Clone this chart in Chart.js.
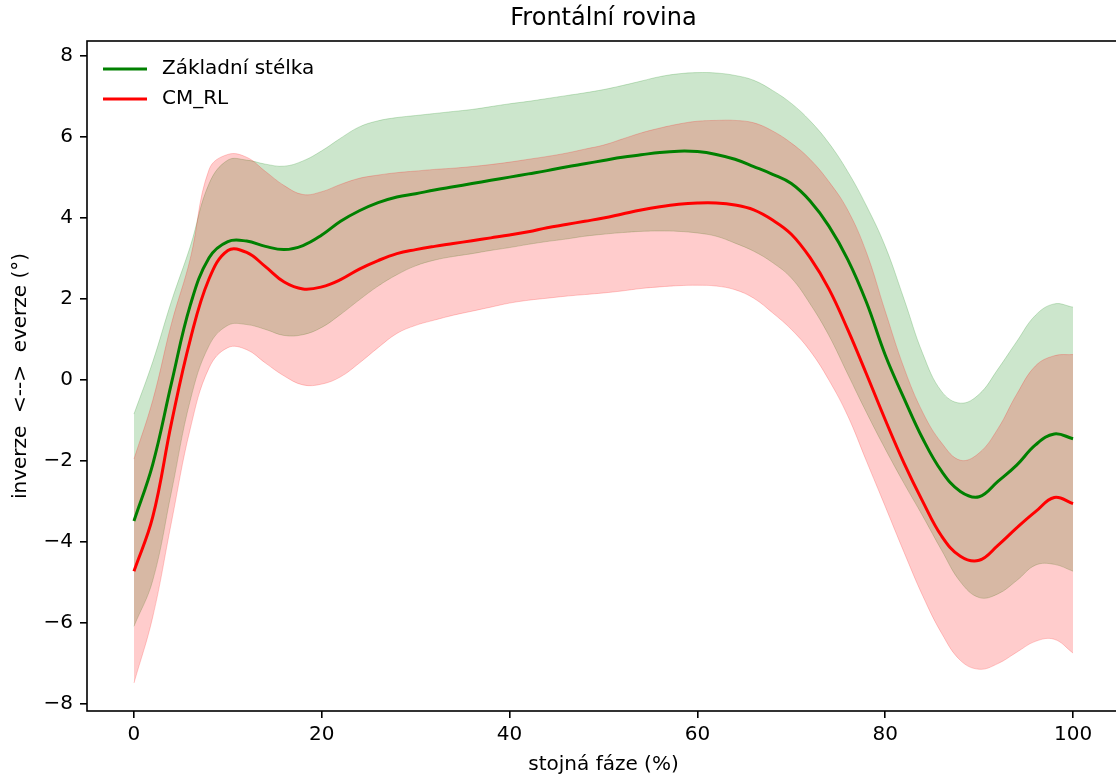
<!DOCTYPE html>
<html lang="cs">
<head>
<meta charset="UTF-8">
<title>Frontální rovina</title>
<script src="https://cdn.jsdelivr.net/npm/chart.js"></script>
<style>
  html, body { margin: 0; padding: 0; background: #fff; overflow: hidden; }
  #wrap { width: 1122px; height: 780px; }
</style>
</head>
<body>
<div id="wrap"><canvas id="frontal" width="1122" height="780"></canvas></div>
<script>
// stance phase (%), sampled every 2 %
const stance = [0, 2, 4, 6, 8, 10, 12, 14, 16, 18, 20, 22, 24, 26, 28, 30, 32, 34, 36, 38, 40,
  42, 44, 46, 48, 50, 52, 54, 56, 58, 60, 62, 64, 66, 68, 70, 72, 74, 76, 78, 80,
  82, 84, 86, 88, 90, 92, 94, 96, 98, 100];

// Základní stélka: mean and mean ± SD
const zaklMean = [-3.48, -2.08, -0.07, 1.85, 3.02, 3.42, 3.43, 3.3, 3.22, 3.32, 3.58,
  3.92, 4.18, 4.38, 4.52, 4.6, 4.69, 4.77, 4.85, 4.93, 5.01,
  5.09, 5.17, 5.26, 5.34, 5.42, 5.5, 5.56, 5.62, 5.65, 5.64,
  5.57, 5.45, 5.27, 5.08, 4.85, 4.42, 3.8, 2.98, 1.92, 0.62,
  -0.45, -1.45, -2.25, -2.75, -2.88, -2.5, -2.1, -1.6, -1.33, -1.45];
const zaklUpper = [-0.84, 0.45, 1.95, 3.3, 4.85, 5.43, 5.43, 5.33, 5.28, 5.41, 5.66,
  5.97, 6.25, 6.4, 6.48, 6.53, 6.58, 6.63, 6.68, 6.75, 6.82,
  6.88, 6.95, 7.02, 7.09, 7.17, 7.27, 7.38, 7.49, 7.56, 7.59,
  7.58, 7.52, 7.4, 7.15, 6.83, 6.4, 5.85, 5.15, 4.3, 3.3,
  2.0, 0.65, -0.28, -0.57, -0.35, 0.27, 0.95, 1.6, 1.88, 1.8];
const zaklLower = [-6.08, -4.95, -2.75, -0.5, 0.85, 1.35, 1.37, 1.25, 1.1, 1.12, 1.3,
  1.62, 1.98, 2.32, 2.6, 2.82, 2.96, 3.05, 3.12, 3.2, 3.27,
  3.35, 3.42, 3.48, 3.55, 3.6, 3.64, 3.67, 3.68, 3.67, 3.63,
  3.55, 3.38, 3.18, 2.9, 2.52, 1.88, 1.1, 0.15, -0.8, -1.7,
  -2.55, -3.36, -4.2, -4.98, -5.37, -5.28, -4.95, -4.57, -4.55, -4.72];

// CM_RL: mean and mean ± SD
const cmMean = [-4.72, -3.38, -1.05, 1.0, 2.5, 3.2, 3.15, 2.8, 2.42, 2.25, 2.3,
  2.48, 2.74, 2.95, 3.12, 3.22, 3.3, 3.37, 3.44, 3.51, 3.58,
  3.66, 3.76, 3.84, 3.92, 4.0, 4.1, 4.2, 4.28, 4.34, 4.37,
  4.37, 4.32, 4.2, 3.95, 3.6, 3.02, 2.25, 1.25, 0.15, -0.98,
  -2.05, -3.0, -3.85, -4.35, -4.45, -4.08, -3.65, -3.25, -2.9, -3.05];
const cmUpper = [-1.95, -0.5, 1.4, 3.0, 5.2, 5.57, 5.5, 5.15, 4.8, 4.58, 4.65,
  4.83, 4.98, 5.06, 5.12, 5.16, 5.2, 5.23, 5.27, 5.32, 5.38,
  5.45, 5.52, 5.6, 5.7, 5.8, 5.95, 6.1, 6.22, 6.32, 6.39,
  6.41, 6.41, 6.35, 6.15, 5.85, 5.45, 4.9, 4.2, 3.15, 1.7,
  0.3, -0.8, -1.55, -1.98, -1.8, -1.2, -0.35, 0.35, 0.6, 0.63];
const cmLower = [-7.48, -5.85, -3.5, -1.2, 0.3, 0.8, 0.75, 0.42, 0.1, -0.12, -0.1,
  0.08, 0.42, 0.8, 1.15, 1.35, 1.48, 1.6, 1.7, 1.8, 1.9,
  1.97, 2.02, 2.07, 2.11, 2.15, 2.2, 2.26, 2.3, 2.33, 2.34,
  2.32, 2.23, 2.02, 1.66, 1.25, 0.72, 0.0, -0.88, -2.0, -3.12,
  -4.25, -5.33, -6.25, -6.92, -7.14, -7.0, -6.72, -6.45, -6.4, -6.74];

const xTicks = [0, 20, 40, 60, 80, 100];
const yTicks = [-8, -6, -4, -2, 0, 2, 4, 6, 8];

const FONT = "'DejaVu Sans', sans-serif";
Chart.defaults.font.family = FONT;
Chart.defaults.color = '#000';

const pts = ys => stance.map((x, i) => ({ x: x, y: ys[i] }));
const minus = v => (v < 0 ? '\u2212' + Math.abs(v) : String(v));

// spines, title and the legend are drawn by hand so they sit like the pyplot figure
const decor = {
  id: 'decor',
  afterDraw(chart) {
    const { ctx, chartArea: a } = chart;
    ctx.save();
    ctx.strokeStyle = '#000';
    ctx.lineWidth = 1.6;
    ctx.strokeRect(a.left, a.top, a.right - a.left, a.bottom - a.top);

    ctx.fillStyle = '#000';
    ctx.font = '24px ' + FONT;
    ctx.textAlign = 'center';
    ctx.textBaseline = 'middle';
    ctx.fillText('Frontální rovina', (a.left + a.right) / 2, 19);

    ctx.font = '20px ' + FONT;
    ctx.textAlign = 'left';
    [4, 5].forEach((idx, row) => {
      const ds = chart.data.datasets[idx];
      const y = a.top + 28 + row * 30;
      ctx.strokeStyle = ds.borderColor;
      ctx.lineWidth = 3;
      ctx.beginPath();
      ctx.moveTo(a.left + 16, y);
      ctx.lineTo(a.left + 60, y);
      ctx.stroke();
      ctx.fillText(ds.label, a.left + 75, y);
    });
    ctx.restore();
  }
};

const bandStyle = rgb => ({
  borderColor: 'rgba(' + rgb + ',0.2)',
  backgroundColor: 'rgba(' + rgb + ',0.2)',
  borderWidth: 1
});

new Chart(document.getElementById('frontal'), {
  type: 'line',
  data: {
    datasets: [
      { label: 'zakl_sd_upper', data: pts(zaklUpper), fill: '+1', order: 6, ...bandStyle('0,128,0') },
      { label: 'zakl_sd_lower', data: pts(zaklLower), fill: false, order: 5, ...bandStyle('0,128,0') },
      { label: 'cm_sd_upper', data: pts(cmUpper), fill: '+1', order: 4, ...bandStyle('255,0,0') },
      { label: 'cm_sd_lower', data: pts(cmLower), fill: false, order: 3, ...bandStyle('255,0,0') },
      { label: 'Základní stélka', data: pts(zaklMean), borderColor: '#008000', borderWidth: 3, fill: false, order: 2 },
      { label: 'CM_RL', data: pts(cmMean), borderColor: '#ff0000', borderWidth: 3, fill: false, order: 1 }
    ]
  },
  options: {
    responsive: false,
    animation: false,
    elements: { point: { radius: 0 }, line: { tension: 0.4 } },
    layout: { padding: { left: 0, top: 41, right: 2, bottom: 0 } },
    plugins: {
      legend: { display: false },
      title: { display: false },
      tooltip: { enabled: false }
    },
    scales: {
      x: {
        type: 'linear',
        min: -5,
        max: 105,
        afterBuildTicks: s => { s.ticks = xTicks.map(v => ({ value: v })); },
        afterFit: s => { s.height = 69; },
        border: { display: false },
        grid: { drawOnChartArea: false, color: '#000', lineWidth: 1.6, tickLength: 7 },
        ticks: { font: { size: 20 }, padding: 5, maxRotation: 0, callback: minus },
        title: { display: true, text: 'stojná fáze (%)', font: { size: 20 }, padding: { top: 0, bottom: 3 } }
      },
      y: {
        type: 'linear',
        min: -8.17,
        max: 8.37,
        afterBuildTicks: s => { s.ticks = yTicks.map(v => ({ value: v })); },
        afterFit: s => { s.width = 87; },
        border: { display: false },
        grid: { drawOnChartArea: false, color: '#000', lineWidth: 1.6, tickLength: 7 },
        ticks: { font: { size: 20 }, padding: 7, callback: minus },
        title: { display: true, text: 'inverze  <-->  everze (°)', font: { size: 20 }, padding: { top: 9, bottom: 0 } }
      }
    }
  },
  plugins: [decor]
});
</script>
</body>
</html>
